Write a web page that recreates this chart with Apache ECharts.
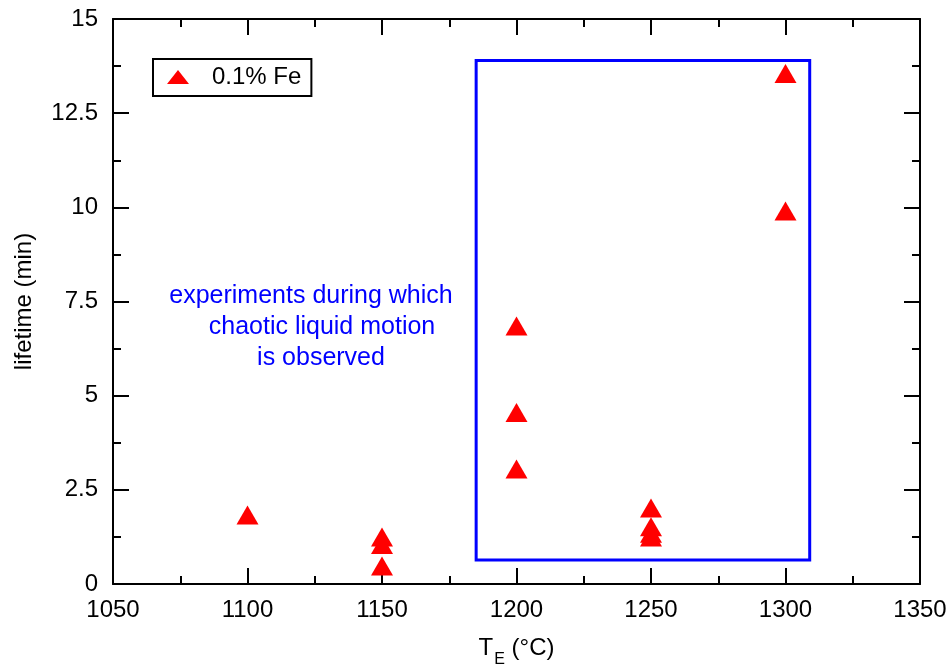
<!DOCTYPE html>
<html>
<head>
<meta charset="utf-8">
<script src="https://cdn.jsdelivr.net/npm/echarts@6/dist/echarts.min.js"></script>
<style>
html,body{margin:0;padding:0;background:#fff;}
#chart{width:952px;height:666px;}
</style>
</head>
<body>
<div id="chart"></div>
<script>
// ---- data ----
const seriesName = '0.1% Fe';
const temperatures = [1100, 1150, 1150, 1150, 1200, 1200, 1200, 1250, 1250, 1250, 1250, 1300, 1300];
const lifetimes    = [1.83, 1.25, 1.05, 0.48, 6.85, 4.55, 3.05, 2.02, 1.52, 1.35, 1.25, 13.55, 9.9];
const xRange = [1050, 1350];
const xStep = 50;
const yRange = [0, 15];
const yStep = 2.5;
const boxX = [1185, 1309];
const boxY = [0.64, 13.9];
const noteLines = ['experiments during which', 'chaotic liquid motion', 'is observed'];

const FONT = 'Liberation Sans, Arial, Helvetica, sans-serif';
const chart = echarts.init(document.getElementById('chart'));

function axisBase(extra) {
  return Object.assign({
    type: 'value',
    axisLine: { show: true, onZero: false, lineStyle: { color: '#000', width: 2 } },
    axisTick: { show: true, inside: true, length: 16, lineStyle: { color: '#000', width: 2 } },
    minorTick: { show: true, splitNumber: 2, length: 8, lineStyle: { color: '#000', width: 2 } },
    splitLine: { show: false },
    minorSplitLine: { show: false }
  }, extra);
}

const option = {
  animation: false,
  backgroundColor: '#fff',
  textStyle: { fontFamily: FONT },
  grid: { left: 113, right: 32, top: 19, bottom: 82, containLabel: false, outerBoundsMode: 'none' },
  legend: {
    data: [{ name: seriesName, icon: 'triangle' }],
    left: 153, top: 59,
    padding: [6, 10, 7, 14],
    borderColor: '#000', borderWidth: 2,
    itemWidth: 22, itemHeight: 14,
    textStyle: { fontSize: 24, color: '#000', fontFamily: FONT, padding: [0, 0, 0, 18] }
  },
  xAxis: [
    axisBase({
      position: 'bottom', min: xRange[0], max: xRange[1], interval: xStep,
      axisLabel: { show: true, color: '#000', fontSize: 24, fontFamily: FONT, margin: 14, formatter: v => String(v) },
      name: '{t|T}{s|E}{t| (°C)}', nameLocation: 'middle', nameGap: 52,
      nameTextStyle: {
        color: '#000', fontFamily: FONT,
        rich: {
          t: { fontSize: 24, color: '#000', fontFamily: FONT, lineHeight: 28, verticalAlign: 'top' },
          s: { fontSize: 16, color: '#000', fontFamily: FONT, lineHeight: 16, verticalAlign: 'top', padding: [16, 0, 0, 1] }
        }
      }
    }),
    axisBase({
      position: 'top', min: xRange[0], max: xRange[1], interval: xStep,
      axisLabel: { show: false }
    })
  ],
  yAxis: [
    axisBase({
      position: 'left', min: yRange[0], max: yRange[1], interval: yStep,
      axisLabel: { show: true, color: '#000', fontSize: 24, fontFamily: FONT, margin: 15, formatter: v => String(v) },
      name: 'lifetime (min)', nameLocation: 'middle', nameGap: 77, nameRotate: 90,
      nameTextStyle: { color: '#000', fontSize: 24, fontFamily: FONT }
    }),
    axisBase({
      position: 'right', min: yRange[0], max: yRange[1], interval: yStep,
      axisLabel: { show: false }
    })
  ],
  series: [{
    name: seriesName,
    type: 'scatter',
    xAxisIndex: 0, yAxisIndex: 0,
    symbol: 'triangle',
    symbolSize: [22, 19],
    itemStyle: { color: '#ff0000', opacity: 1 },
    data: temperatures.map((t, i) => [t, lifetimes[i]]),
    markArea: {
      silent: true,
      itemStyle: { color: 'rgba(0,0,0,0)', borderColor: '#0000ff', borderWidth: 3 },
      label: { show: false },
      data: [[{ xAxis: boxX[0], yAxis: boxY[1] }, { xAxis: boxX[1], yAxis: boxY[0] }]]
    }
  }],
  graphic: [
    { type: 'text', x: 311, y: 296, style: { text: noteLines[0], fill: '#0000ff', font: '25px ' + FONT, align: 'center', verticalAlign: 'middle' } },
    { type: 'text', x: 322, y: 327, style: { text: noteLines[1], fill: '#0000ff', font: '25px ' + FONT, align: 'center', verticalAlign: 'middle' } },
    { type: 'text', x: 321, y: 358, style: { text: noteLines[2], fill: '#0000ff', font: '25px ' + FONT, align: 'center', verticalAlign: 'middle' } }
  ]
};
chart.setOption(option);
</script>
</body>
</html>
